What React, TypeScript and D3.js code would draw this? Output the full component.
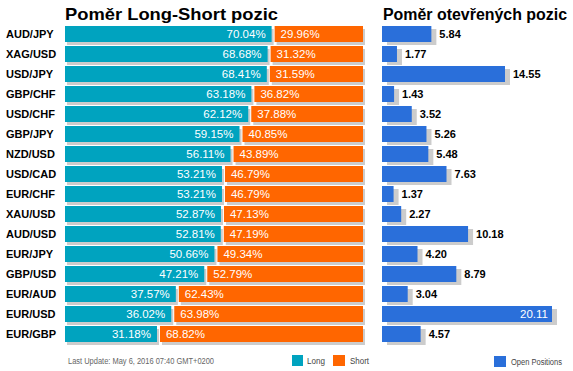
import React from 'react';
import * as d3 from 'd3';

// currency pairs, top to bottom
const pairs = ['AUD/JPY', 'XAG/USD', 'USD/JPY', 'GBP/CHF', 'USD/CHF', 'GBP/JPY', 'NZD/USD', 'USD/CAD',
  'EUR/CHF', 'XAU/USD', 'AUD/USD', 'EUR/JPY', 'GBP/USD', 'EUR/AUD', 'EUR/USD', 'EUR/GBP'];
const longPct = [70.04, 68.68, 68.41, 63.18, 62.12, 59.15, 56.11, 53.21, 53.21, 52.87, 52.81, 50.66, 47.21, 37.57, 36.02, 31.18];
const shortPct = [29.96, 31.32, 31.59, 36.82, 37.88, 40.85, 43.89, 46.79, 46.79, 47.13, 47.19, 49.34, 52.79, 62.43, 63.98, 68.82];
const openPos = [5.84, 1.77, 14.55, 1.43, 3.52, 5.26, 5.48, 7.63, 1.37, 2.27, 10.18, 4.20, 8.79, 3.04, 20.11, 4.57];

const LONG = '#00a3bf';
const SHORT = '#ff6600';
const BLUE = '#2a6fda';
const SHADOW = '#cccccc';
const FONT = 'Arial, "Liberation Sans", sans-serif';

const App: React.FC = () => {
  const width = 573;
  const height = 371;

  const y = d3.scaleBand<string>().domain(pairs).range([24, 344]).paddingInner(0.2).paddingOuter(0.1);
  const bh = y.bandwidth();

  // long/short split bar
  const gap = 3;
  const x0 = 65;
  const x = d3.scaleLinear().domain([0, 100]).range([0, 298 - gap]);

  // open positions
  const ox0 = 382;
  const ox = d3.scaleLinear().domain([0, 20.11]).range([0, 170]);

  return (
    <svg width={width} height={height} style={{ position: 'absolute', left: 0, top: 0 }} fontFamily={FONT}>
      <rect width={width} height={height} fill="#ffffff" />
      <text x={x0} y={20} fontSize={17} fontWeight="bold" fill="#000" textLength={213} lengthAdjust="spacingAndGlyphs">Poměr Long-Short pozic</text>
      <text x={ox0 + 1} y={20} fontSize={16} fontWeight="bold" fill="#000" textLength={184} lengthAdjust="spacingAndGlyphs">Poměr otevřených pozic</text>

      {pairs.map((p, i) => {
        const yy = y(p) || 0;
        const lw = x(longPct[i]);
        const sx = x0 + lw + gap;
        const sw = x(shortPct[i]);
        const ow = ox(openPos[i]);
        return (
          <g key={p}>
            <text x={6} y={yy + 12} fontSize={11} fontWeight="bold" fill="#000">{p}</text>
            <rect x={x0 + 2} y={yy + 3} width={lw} height={bh} fill={SHADOW} />
            <rect x={sx + 2} y={yy + 3} width={sw} height={bh} fill={SHADOW} />
            <rect x={x0} y={yy} width={lw} height={bh} fill={LONG} />
            <rect x={sx} y={yy} width={sw} height={bh} fill={SHORT} />
            <text x={x0 + lw - 6} y={yy + 12} fontSize={11.5} textAnchor="end" fill="#fff">{longPct[i].toFixed(2)}%</text>
            <text x={sx + 6} y={yy + 12} fontSize={11.5} fill="#fff">{shortPct[i].toFixed(2)}%</text>

            <rect x={ox0 + 5} y={yy + 3} width={ow} height={bh} fill={SHADOW} />
            <rect x={ox0} y={yy} width={ow} height={bh} fill={BLUE} />
            {openPos[i] === d3.max(openPos) ? (
              <text x={ox0 + ow - 4} y={yy + 12} fontSize={11.5} textAnchor="end" fill="#fff">{openPos[i].toFixed(2)}</text>
            ) : (
              <text x={ox0 + ow + 8} y={yy + 12} fontSize={11} fontWeight="bold" fill="#000">{openPos[i].toFixed(2)}</text>
            )}
          </g>
        );
      })}

      <text x={68} y={364} fontSize={8.5} fill="#666" textLength={146} lengthAdjust="spacingAndGlyphs">Last Update: May 6, 2016 07:40 GMT+0200</text>
      <rect x={292} y={355} width={11} height={11} fill={LONG} />
      <text x={307} y={364} fontSize={8.5} fill="#444" textLength={18} lengthAdjust="spacingAndGlyphs">Long</text>
      <rect x={333} y={355} width={12} height={11} fill={SHORT} />
      <text x={350} y={364} fontSize={8.5} fill="#444" textLength={19} lengthAdjust="spacingAndGlyphs">Short</text>
      <rect x={494} y={356} width={12} height={11} fill={BLUE} />
      <text x={511} y={365} fontSize={8.5} fill="#444" textLength={51} lengthAdjust="spacingAndGlyphs">Open Positions</text>
    </svg>
  );
};

export default App;
